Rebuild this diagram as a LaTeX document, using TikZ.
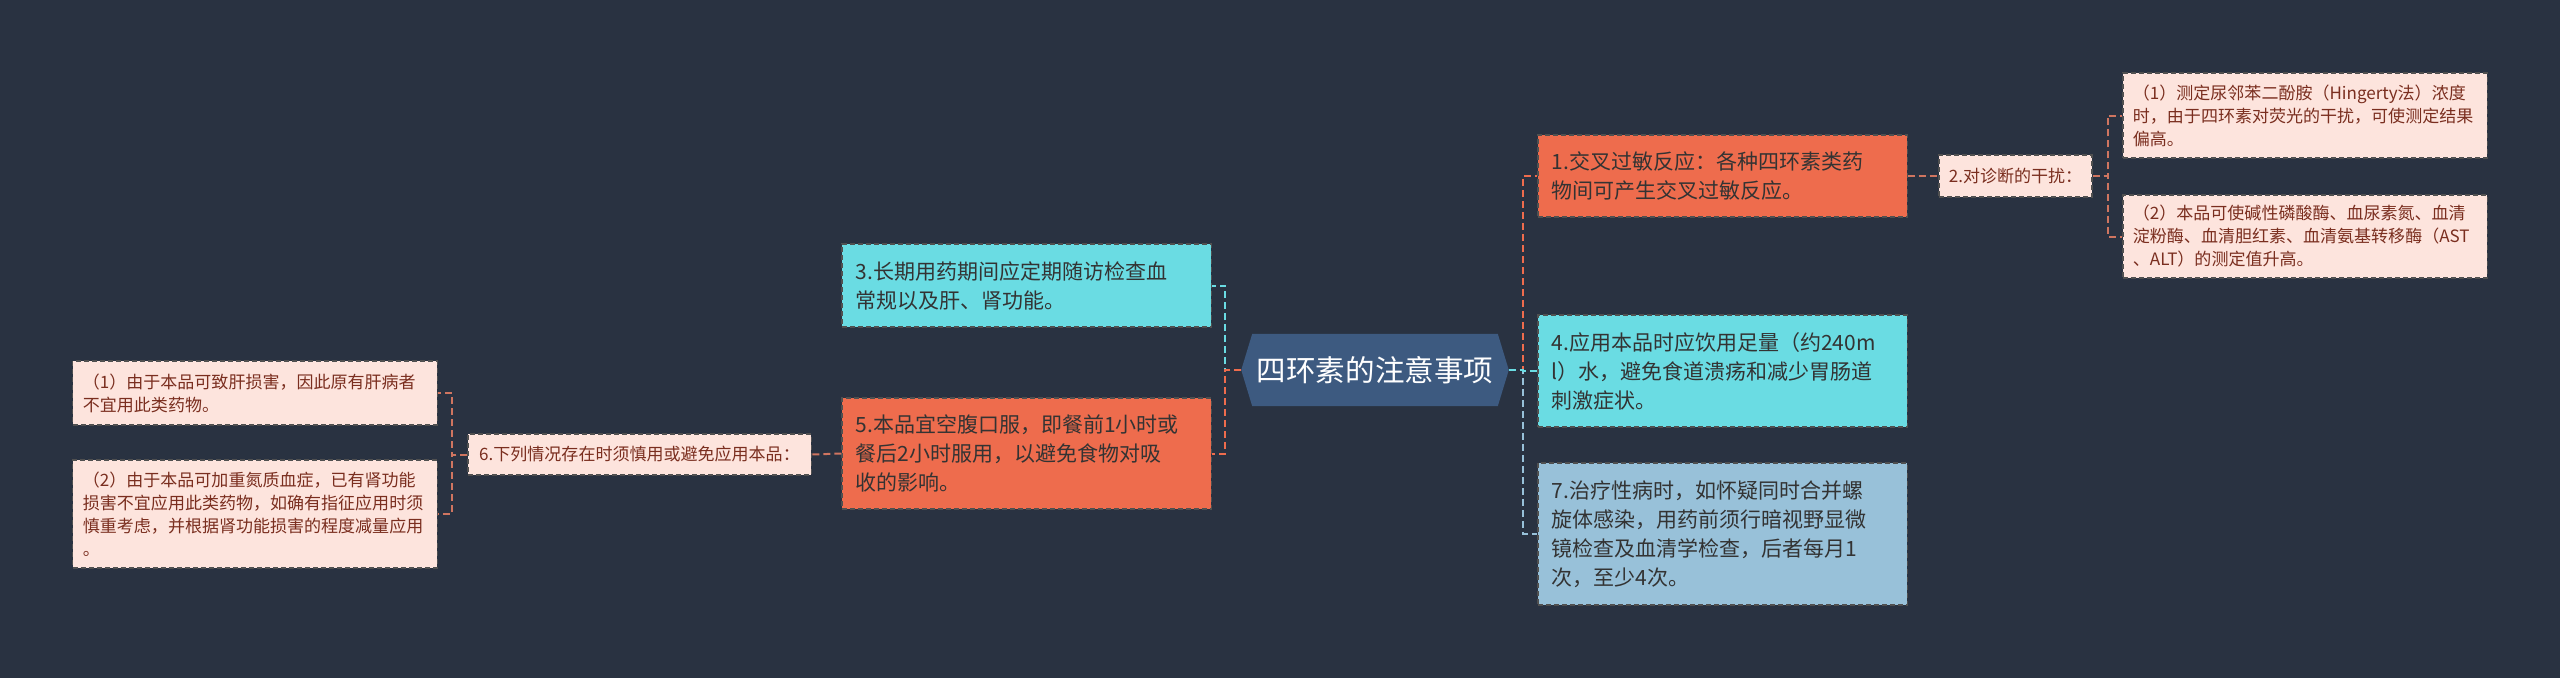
\documentclass[tikz,border=0pt]{standalone}
\usepackage{fontspec}
\setmainfont{Noto Sans CJK SC}
\usetikzlibrary{backgrounds}
\definecolor{bgc}{HTML}{293241}
\definecolor{rootc}{HTML}{3D5A80}
\definecolor{orangec}{HTML}{EE6C4D}
\definecolor{cyanc}{HTML}{6ADCE3}
\definecolor{bluec}{HTML}{98C1D9}
\definecolor{pinkc}{HTML}{FDE4DD}
\definecolor{redtext}{HTML}{7A2E1F}
\definecolor{darktext}{HTML}{333333}
\definecolor{bordc}{HTML}{505050}
\definecolor{salmonc}{HTML}{CF7560}
\tikzset{
  lone/.style={rectangle, draw=bordc, dash pattern=on 0.05cm off 0.03cm, line width=0.012cm,
    inner sep=0pt, text width=3.41cm, align=left, minimum width=3.69cm,
    font=\fontsize{5.97pt}{8.25pt}\selectfont, text=darktext},
  smallbox/.style={rectangle, draw=bordc, dash pattern=on 0.05cm off 0.03cm, line width=0.012cm,
    inner sep=0pt, fill=pinkc, text=redtext, align=center,
    font=\fontsize{4.84pt}{6.54pt}\selectfont},
  smallpara/.style={smallbox, text width=3.44cm, align=left, minimum width=3.64cm},
  conn/.style={dash pattern=on 0.07cm off 0.04cm, line width=0.02cm},
}
\begin{document}
\begin{tikzpicture}[x=0.01cm,y=-0.01cm]
\begin{scope}[on background layer]
\fill[bgc] (0,0) rectangle (2560,678);
\end{scope}
\useasboundingbox (0,0) rectangle (2560,678);

% root
\node[font=\fontsize{8.4pt}{10pt}\selectfont, text=white, minimum width=2.66cm,
  minimum height=0.71cm, inner sep=0pt] (root) at (1375,370) {四环素的注意事项};
\begin{scope}[on background layer]
\fill[rootc] (root.west) -- ([xshift=0.11cm]root.north west) -- ([xshift=-0.11cm]root.north east)
  -- (root.east) -- ([xshift=-0.11cm]root.south east) -- ([xshift=0.11cm]root.south west) -- cycle;
\end{scope}

% right level 1
\node[lone, fill=orangec, minimum height=0.82cm] (n1) at (1722.5,176)
  {1.交叉过敏反应：各种四环素类药\\物间可产生交叉过敏反应。};
\node[lone, fill=cyanc, minimum height=1.12cm] (n4) at (1722.5,371)
  {4.应用本品时应饮用足量（约240m\\l）水，避免食道溃疡和减少胃肠道\\刺激症状。};
\node[lone, fill=bluec, minimum height=1.42cm] (n7) at (1722.5,534)
  {7.治疗性病时，如怀疑同时合并螺\\旋体感染，用药前须行暗视野显微\\镜检查及血清学检查，后者每月1\\次，至少4次。};

% right level 2/3
\node[smallbox, minimum width=1.53cm, minimum height=0.42cm] (n2) at (2015.5,176) {2.对诊断的干扰：};
\node[smallpara, minimum height=0.85cm] (r1) at (2305,115.5)
  {（1）测定尿邻苯二酚胺（Hingerty法）浓度\\时，由于四环素对荧光的干扰，可使测定结果\\偏高。};
\node[smallpara, minimum height=0.83cm] (r2) at (2305,236.5)
  {（2）本品可使碱性磷酸酶、血尿素氮、血清\\淀粉酶、血清胆红素、血清氨基转移酶（AST\\、ALT）的测定值升高。};

% left level 1
\node[lone, fill=cyanc, minimum height=0.83cm] (n3) at (1026.5,285.5)
  {3.长期用药期间应定期随访检查血\\常规以及肝、肾功能。};
\node[lone, fill=orangec, minimum height=1.11cm] (n5) at (1026.5,453.5)
  {5.本品宜空腹口服，即餐前1小时或\\餐后2小时服用，以避免食物对吸\\收的影响。};

% left level 2/3
\node[smallbox, minimum width=3.43cm, minimum height=0.41cm] (n6) at (639.5,454.5) {6.下列情况存在时须慎用或避免应用本品：};
\node[smallpara, minimum height=0.64cm] (l1) at (255,393)
  {（1）由于本品可致肝损害，因此原有肝病者\\不宜用此类药物。};
\node[smallpara, minimum height=1.08cm] (l2) at (255,514)
  {（2）由于本品可加重氮质血症，已有肾功能\\损害不宜应用此类药物，如确有指征应用时须\\慎重考虑，并根据肾功能损害的程度减量应用\\。};

% junctions
\coordinate (jr) at (1523,370);
\coordinate (jl) at (1225,370);
\coordinate (j2) at (2108,176);
\coordinate (j6) at (452,454.5);

% connectors
\draw[conn, orangec] (root.east) -- (jr) |- (n1.west);
\draw[conn, bluec] (root.east) -- (jr) |- (n7.west);
\draw[conn, cyanc] (root.east) -- (jr) |- (n4.west);
\draw[conn, cyanc] (root.west) -- (jl) |- (n3.east);
\draw[conn, orangec] (root.west) -- (jl) |- (n5.east);
\draw[conn, salmonc] (n1.east) -- (n2.west);
\draw[conn, salmonc] (n2.east) -- (j2) |- (r1.west);
\draw[conn, salmonc] (n2.east) -- (j2) |- (r2.west);
\draw[conn, salmonc] (n5.west) -- (n6.east);
\draw[conn, salmonc] (n6.west) -- (j6) |- (l1.east);
\draw[conn, salmonc] (n6.west) -- (j6) |- (l2.east);
\end{tikzpicture}
\end{document}
